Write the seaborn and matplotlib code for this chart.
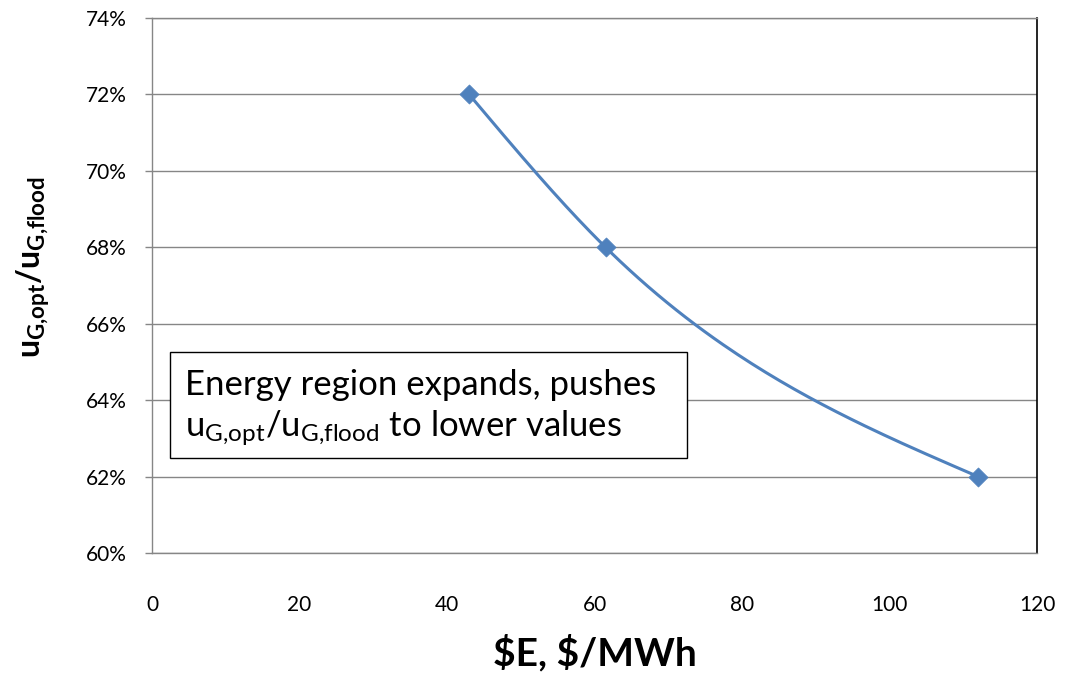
import numpy as np
import pandas as pd
import matplotlib
matplotlib.use("Agg")
import matplotlib.pyplot as plt
from matplotlib.patches import Rectangle
from matplotlib.ticker import FuncFormatter
import seaborn as sns

# Energy price vs. optimal fraction of flooding velocity
energy_price = [43.0, 61.5, 112.0]          # $/MWh
velocity_ratio = [0.72, 0.68, 0.62]         # u_G,opt / u_G,flood

x_ticks = [0, 20, 40, 60, 80, 100, 120]
y_ticks = [0.60, 0.62, 0.64, 0.66, 0.68, 0.70, 0.72, 0.74]

LINE_BLUE = "#4F81BD"
GRID_GRAY = "#868686"

sns.set_theme(style="white")
plt.rcParams["font.family"] = ["Lato", "DejaVu Sans"]
plt.rcParams["mathtext.fontset"] = "custom"
plt.rcParams["mathtext.rm"] = "Lato"
plt.rcParams["mathtext.it"] = "Lato:italic"
plt.rcParams["mathtext.bf"] = "Lato:bold"


def natural_spline_line(xs, ys, n=80):
    """Smoothed line through the points: natural cubic spline."""
    x = np.asarray(xs, float)
    y = np.asarray(ys, float)
    k = len(x)
    h = np.diff(x)
    s = np.diff(y) / h
    # Solve for second derivatives with natural end conditions
    A = np.zeros((k, k))
    b = np.zeros(k)
    A[0, 0] = A[-1, -1] = 1.0
    for i in range(1, k - 1):
        A[i, i - 1] = h[i - 1]
        A[i, i] = 2 * (h[i - 1] + h[i])
        A[i, i + 1] = h[i]
        b[i] = 6 * (s[i] - s[i - 1])
    M = np.linalg.solve(A, b)
    px, py = [], []
    for i in range(k - 1):
        t = np.linspace(x[i], x[i + 1], n)
        a = (x[i + 1] - t) / h[i]
        c = (t - x[i]) / h[i]
        yy = (a * y[i] + c * y[i + 1]
              + ((a ** 3 - a) * M[i] + (c ** 3 - c) * M[i + 1]) * h[i] ** 2 / 6)
        if i > 0:
            t, yy = t[1:], yy[1:]
        px.append(t)
        py.append(yy)
    return np.concatenate(px), np.concatenate(py)


df = pd.DataFrame({"price": energy_price, "ratio": velocity_ratio})
cx, cy = natural_spline_line(df["price"].values, df["ratio"].values)
curve = pd.DataFrame({"price": cx, "ratio": cy})

fig = plt.figure(figsize=(10.68, 6.84), dpi=100)
ax = fig.add_axes([152 / 1068, 1 - 553 / 684, 885 / 1068, 535 / 684])

sns.lineplot(data=curve, x="price", y="ratio", ax=ax, color=LINE_BLUE,
             linewidth=2.2, sort=False, estimator=None, zorder=3)
sns.scatterplot(data=df, x="price", y="ratio", ax=ax, color=LINE_BLUE,
                marker="D", s=95, edgecolor=LINE_BLUE, linewidth=0.5, zorder=4)

ax.set_xlim(0, 120)
ax.set_ylim(0.60, 0.74)
ax.set_xticks(x_ticks)
ax.set_yticks(y_ticks)
ax.yaxis.set_major_formatter(FuncFormatter(lambda v, _: f"{v * 100:.0f}%"))

ax.grid(axis="y", color=GRID_GRAY, linewidth=1.0, zorder=0)
ax.grid(axis="x", visible=False)
ax.set_axisbelow(True)

for side in ("left", "bottom", "top"):
    ax.spines[side].set_color(GRID_GRAY)
    ax.spines[side].set_linewidth(1.0)
ax.spines["right"].set_color("black")
ax.spines["right"].set_linewidth(1.2)

ax.tick_params(axis="y", which="major", length=5, width=1.0, color=GRID_GRAY,
               direction="out", left=True, labelsize=15, pad=13, labelcolor="black")
ax.tick_params(axis="x", which="major", length=0, labelsize=15, pad=30, labelcolor="black")

ax.set_xlabel(r"\$E, \$/MWh", fontsize=28, fontweight="bold",
              labelpad=14, color="black")
ax.set_ylabel(r"$\mathbf{u_{G{,}opt}/u_{G{,}flood}}$", fontsize=23, color="black")
ax.yaxis.set_label_coords(-0.113, 0.535)

# Annotation box
ax.add_patch(Rectangle((18 / 885, (553 - 458) / 535), (687 - 170) / 885, (458 - 352) / 535,
                       transform=ax.transAxes, facecolor="white", edgecolor="black",
                       linewidth=1.0, zorder=5))
ax.text(33 / 885, (553 - 395) / 535, "Energy region expands, pushes",
        transform=ax.transAxes, fontsize=25, va="baseline", ha="left", zorder=6, color="black")
ax.text(33 / 885, (553 - 437) / 535,
        r"u$_{\mathrm{G{,}opt}}$/u$_{\mathrm{G{,}flood}}$ to lower values",
        transform=ax.transAxes, fontsize=25, va="baseline", ha="left", zorder=6, color="black")

fig.savefig("out.png", dpi=100)
